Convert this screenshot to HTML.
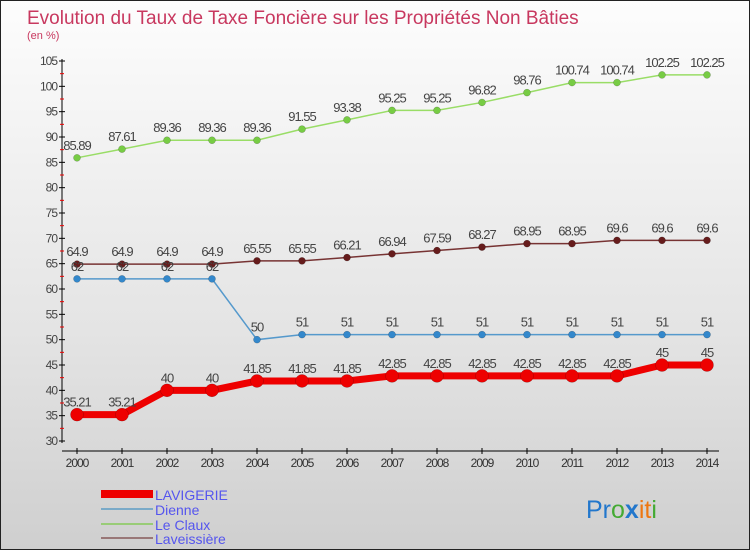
<!DOCTYPE html>
<html><head><meta charset="utf-8"><style>
body{margin:0}
#wrap{position:relative;width:748px;height:548px;border:1px solid #222;background:linear-gradient(#fdfdfd,#e4e4e4 60%,#cfcfcf);font-family:"Liberation Sans",sans-serif;overflow:hidden}
svg text{font-family:"Liberation Sans",sans-serif}
</style></head><body>
<div id="wrap">
<svg id="c" width="748" height="548">
<text x="26" y="23" font-size="19" fill="#c8385f">Evolution du Taux de Taxe Foncière sur les Propriétés Non Bâties</text>
<text x="26" y="38" font-size="11" fill="#c8385f">(en %)</text>
<g id="g"></g>
<g>
<rect x="100" y="489" width="52" height="8" fill="#e00"/>
<text x="154" y="499" font-size="14" fill="#5555ee">LAVIGERIE</text>
<line x1="100" y1="508" x2="152" y2="508" stroke="#7aaac8" stroke-width="2"/>
<text x="154" y="514" font-size="14" fill="#5555ee">Dienne</text>
<line x1="100" y1="523" x2="152" y2="523" stroke="#99cc77" stroke-width="2"/>
<text x="154" y="529" font-size="14" fill="#5555ee">Le Claux</text>
<line x1="100" y1="537" x2="152" y2="537" stroke="#997777" stroke-width="2"/>
<text x="154" y="543" font-size="14" fill="#5555ee">Laveissière</text>
</g>
<text x="585" y="517" font-size="25"><tspan fill="#2277cc">Pr</tspan><tspan fill="#44aa33">o</tspan><tspan fill="#2277cc" font-weight="bold">x</tspan><tspan fill="#ee7711">i</tspan><tspan fill="#ee7711">t</tspan><tspan fill="#44aa33">i</tspan></text>
</svg></div>
<script>
const years=[2000,2001,2002,2003,2004,2005,2006,2007,2008,2009,2010,2011,2012,2013,2014];
const lavigerie=[35.21,35.21,40,40,41.85,41.85,41.85,42.85,42.85,42.85,42.85,42.85,42.85,45,45];
const dienne=[62,62,62,62,50,51,51,51,51,51,51,51,51,51,51];
const leClaux=[85.89,87.61,89.36,89.36,89.36,91.55,93.38,95.25,95.25,96.82,98.76,100.74,100.74,102.25,102.25];
const laveissiere=[64.9,64.9,64.9,64.9,65.55,65.55,66.21,66.94,67.59,68.27,68.95,68.95,69.6,69.6,69.6];
const yTicks=[30,35,40,45,50,55,60,65,70,75,80,85,90,95,100,105];
const NS='http://www.w3.org/2000/svg',g=document.getElementById('g');
const X=i=>76+i*45, Y=v=>440-(v-30)*(380/75);
function el(t,a){const e=document.createElementNS(NS,t);for(const k in a)e.setAttribute(k,a[k]);g.appendChild(e);return e;}
let ax=el('line',{x1:61,y1:58,x2:61,y2:442,stroke:'#000'});


let xa=el('line',{x1:61,y1:450,x2:718,y2:450,stroke:'#000'});


yTicks.forEach(v=>{
 const y=Y(v);
 el('line',{x1:58,y1:y,x2:64,y2:y,stroke:'#000'});
 if(v<105){el('line',{x1:59,y1:Y(v+2.5),x2:63,y2:Y(v+2.5),stroke:'#e00'});}
 let t=el('text',{x:56,y:y+4,'font-size':12,fill:'#444','text-anchor':'end','letter-spacing':'-1'});
 t.textContent=v;
 
 
});
years.forEach((yr,i)=>{
 el('line',{x1:X(i),y1:447,x2:X(i),y2:453,stroke:'#000'});
 let t=el('text',{x:X(i),y:466,'font-size':12,fill:'#333','text-anchor':'middle','letter-spacing':'-1'});
 t.textContent=yr;
 
 
});
function series(name,data,color,w,r,lc){
 let p=el('polyline',{points:data.map((v,i)=>X(i)+','+Y(v)).join(' '),fill:'none',stroke:color,'stroke-width':w});
 
 
 data.forEach((v,i)=>{
  let c=el('circle',{cx:X(i),cy:Y(v),r:r,fill:lc||color,stroke:'rgba(0,0,0,0.3)','stroke-width':0.5});
  
  
  let t=el('text',{x:X(i),y:Y(v)-8,'font-size':13,fill:'#444','text-anchor':'middle','letter-spacing':'-1'});
  t.textContent=String(v);
  
  
 });
}
series('le-claux',leClaux,'#99dd66',1.5,3.5,'#77cc44');
series('laveissiere',laveissiere,'#773333',1.5,3.5,'#661c1c');
series('dienne',dienne,'#5599cc',1.5,3.5,'#3388cc');
series('lavigerie',lavigerie,'#ee0000',7,6.5,'#ee0000');
</script>
</body></html>
